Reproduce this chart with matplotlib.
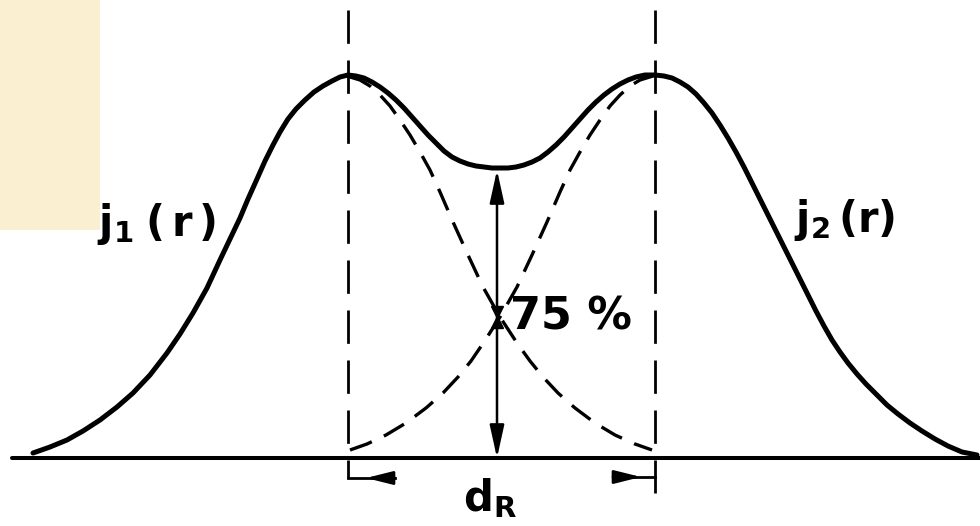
import matplotlib
matplotlib.use("Agg")
import matplotlib.pyplot as plt
from matplotlib.patches import Rectangle

# resulting current density profile (solid), r in px along the axis, j in px above baseline
solid_r = [33, 50, 67, 83, 100, 117, 133, 150, 167, 180, 193, 207, 220, 230, 240, 248, 257, 265,
           273, 280, 288, 296, 305, 314, 323, 332, 340, 348,
           356, 364, 372, 380, 388, 396, 404, 412, 420, 428, 436, 444, 452, 460, 468, 476, 484,
           492, 500, 508, 516, 524, 532, 540, 548, 556, 564, 572, 580, 588, 596, 604, 612, 620,
           628, 636, 645, 655,
           664, 672, 680, 688, 696, 704, 712, 720, 728, 736, 744, 752, 760, 768, 776, 784, 792,
           800, 808, 816, 824, 832, 840, 848, 857, 866, 876, 887, 898, 910, 922, 935, 948, 962,
           977]
solid_j = [5, 11, 18, 27, 38, 51, 65, 83, 105, 124, 145, 170, 198, 219, 240, 259, 279, 297,
           313, 326, 339, 349, 358, 366, 372, 377, 381, 383,
           382, 380, 376, 371, 365, 358, 350, 341, 332, 323, 315, 307, 301, 297, 294, 292, 291,
           290, 290, 290, 291, 293, 296, 300, 306, 313, 321, 330, 339, 348, 356, 363, 369, 374,
           378, 381, 383, 383,
           382, 380, 376, 371, 364, 355, 345, 333, 320, 306, 291, 275, 259, 243, 227, 211, 195,
           179, 163, 147, 132, 118, 106, 95, 84, 74, 64, 53, 44, 35, 27, 19, 12, 6,
           3]

# single profiles j1 and j2 (dashed)
j1_r = [350, 360, 370, 380, 390, 400, 410, 420, 430, 440, 453, 468, 483, 500, 517, 530, 543,
        558, 575, 595, 615, 635, 652]
j1_j = [381, 378, 372, 363, 352, 338, 323, 306, 288, 266, 236, 203, 171, 141, 115, 97, 81,
        65, 50, 35, 23, 14, 8]
j2_r = [350, 367, 386, 406, 426, 443, 458, 471, 484, 500, 517, 532, 547, 560, 570, 580, 590,
        600, 610, 620, 630, 640, 653]
j2_j = [8, 14, 23, 35, 50, 65, 81, 97, 116, 141, 171, 203, 236, 266, 288, 306, 323, 338, 352,
        363, 372, 378, 382]

peak_r = [348, 655]
dip_r = 497
dip_j = 290
cross_j = 141

fig = plt.figure(figsize=(9.8, 5.26), dpi=100)
ax = fig.add_axes([0, 0, 1, 1])
ax.set_xlim(0, 980)
ax.set_ylim(-68, 458)
ax.axis("off")

ax.add_patch(Rectangle((0, 228), 100, 240, facecolor="#faefd0", edgecolor="none", zorder=0))

# baseline
ax.plot([12, 980], [0, 0], color="black", lw=2.9, solid_capstyle="round", zorder=2)

# marker lines through the maxima
ax.plot([peak_r[0], peak_r[0]], [448, -20], color="black", lw=2.0,
        linestyle=(0, (12, 6)), zorder=2)
ax.plot([peak_r[1], peak_r[1]], [448, -35], color="black", lw=2.0,
        linestyle=(0, (12, 6)), zorder=2)

ax.plot(j1_r, j1_j, color="black", lw=2.4, linestyle=(0, (7, 4)), zorder=3)
ax.plot(j2_r, j2_j, color="black", lw=2.4, linestyle=(0, (7, 4)), zorder=3)
ax.plot(solid_r, solid_j, color="black", lw=3.6, solid_capstyle="round",
        solid_joinstyle="round", zorder=4)

# 75 % dip arrow
ax.annotate("", xy=(dip_r, dip_j - 2), xytext=(dip_r, 0),
            arrowprops=dict(arrowstyle="<|-|>,head_length=1.0,head_width=0.22",
                            color="black", lw=1.8, mutation_scale=20, shrinkA=0, shrinkB=0),
            zorder=5)
# crossing of j1 and j2
ax.plot([dip_r], [cross_j + 5], marker="v", ms=8, color="black", zorder=5)
ax.plot([dip_r], [cross_j - 5], marker="^", ms=8, color="black", zorder=5)

# d_R bracket
ax.plot([peak_r[0], peak_r[0] + 47], [-20, -20], color="black", lw=2.0, zorder=2)
ax.annotate("", xy=(peak_r[0] + 18, -20), xytext=(peak_r[0] + 47, -20),
            arrowprops=dict(arrowstyle="-|>,head_length=1.0,head_width=0.25",
                            color="black", lw=2.0, mutation_scale=16, shrinkA=0, shrinkB=0))
ax.plot([peak_r[1] - 42, peak_r[1]], [-19, -19], color="black", lw=2.0, zorder=2)
ax.annotate("", xy=(peak_r[1] - 14, -19), xytext=(peak_r[1] - 42, -19),
            arrowprops=dict(arrowstyle="-|>,head_length=1.0,head_width=0.25",
                            color="black", lw=2.0, mutation_scale=16, shrinkA=0, shrinkB=0))

ax.text(490, -40, r"$\mathregular{d_R}$", fontsize=30, fontweight="bold",
        ha="center", va="center")
ax.text(510, 141, "75 %", fontsize=32, fontweight="bold", ha="left", va="center")
ax.text(97, 234, r"$\mathregular{j_1\;(\,r\,)}$", fontsize=30, fontweight="bold",
        ha="left", va="center")
ax.text(794, 238, r"$\mathregular{j_2\,(r)}$", fontsize=30, fontweight="bold",
        ha="left", va="center")

fig.savefig("out.png", dpi=100)
